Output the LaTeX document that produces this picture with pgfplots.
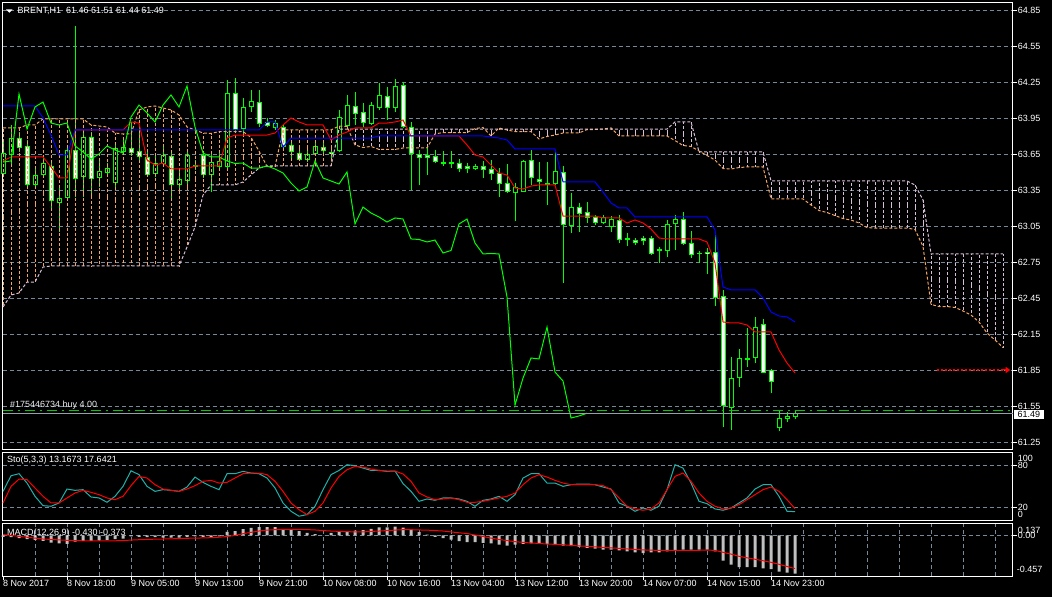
\documentclass[border=0pt]{standalone}
\usepackage{fontspec}
\setmainfont{Liberation Sans}
\usepackage{pgfplots}
\pgfplotsset{compat=1.18}
\usepackage{pgfplotstable}
\usetikzlibrary{arrows.meta}

\definecolor{gridc}{RGB}{119,136,153}
\definecolor{sandy}{RGB}{244,164,96}
\definecolor{thist}{RGB}{216,191,216}
\definecolor{seag}{RGB}{32,178,170}
\definecolor{silv}{RGB}{192,192,192}
\definecolor{limeg}{RGB}{0,255,0}
\definecolor{ordg}{RGB}{0,205,0}
\newcommand\lbl{\fontsize{9bp}{10bp}\selectfont}

% bars: x, open high low close, tenkan, kijun, stoch main/signal, macd hist/signal
\pgfplotstableread{
x o h l c t k sm ss mh ms
0 63.492 63.767 63.467 63.658 63.592 64.050 42.7 25.8 -0.015 0.010
1 63.650 63.892 63.558 63.783 63.625 64.050 65.5 50.0 -0.020 0.000
2 63.783 63.833 63.667 63.708 63.625 64.050 68.4 60.6 -0.030 -0.010
3 63.717 63.767 63.383 63.400 63.625 64.050 54.8 59.7 -0.040 -0.020
4 63.400 63.542 63.367 63.475 63.625 64.050 35.5 47.6 -0.050 -0.030
5 63.483 63.642 63.458 63.575 63.625 63.950 21.9 35.5 -0.060 -0.040
6 63.550 63.583 63.183 63.267 63.542 63.808 21.0 25.8 -0.080 -0.045
7 63.250 63.392 63.000 63.283 63.450 63.642 25.8 25.8 -0.090 -0.050
8 63.292 63.708 63.267 63.683 63.450 63.642 46.1 33.1 -0.095 -0.055
9 63.683 64.717 63.292 63.450 63.850 63.850 44.2 40.3 -0.070 -0.058
10 63.467 63.833 63.292 63.792 63.850 63.850 45.2 44.2 -0.060 -0.060
11 63.792 63.833 63.308 63.450 63.850 63.850 34.5 41.3 -0.060 -0.060
12 63.450 63.600 63.375 63.500 63.850 63.850 33.1 37.9 -0.055 -0.060
13 63.500 63.575 63.458 63.533 63.850 63.850 26.8 33.1 -0.050 -0.060
14 63.417 63.742 63.375 63.700 63.850 63.850 35.5 30.6 -0.040 -0.060
15 63.675 63.767 63.658 63.708 63.850 63.850 50.0 35.5 -0.035 -0.058
16 63.700 63.917 63.633 63.667 63.917 63.850 72.7 51.0 -0.010 -0.052
17 63.667 63.892 63.600 63.625 63.908 63.850 67.0 64.5 -0.015 -0.048
18 63.625 63.683 63.458 63.483 63.600 63.850 50.0 62.1 -0.020 -0.045
19 63.492 63.642 63.458 63.575 63.558 63.850 42.7 52.4 -0.020 -0.042
20 63.575 63.708 63.550 63.642 63.575 63.850 45.2 46.1 -0.025 -0.040
21 63.633 63.667 63.267 63.400 63.525 63.850 44.2 44.2 -0.025 -0.038
22 63.400 63.533 63.333 63.442 63.525 63.850 42.7 42.7 -0.025 -0.035
23 63.433 63.683 63.392 63.642 63.525 63.850 49.0 46.1 -0.020 -0.032
24 63.558 63.600 63.517 63.550 63.550 63.850 63.5 51.0 -0.010 -0.030
25 63.642 63.667 63.450 63.483 63.550 63.850 55.8 57.3 -0.015 -0.028
26 63.483 63.667 63.333 63.583 63.550 63.850 50.0 58.7 -0.020 -0.025
27 63.550 63.683 63.533 63.592 63.550 63.850 45.2 54.8 -0.010 -0.020
28 63.542 64.267 63.517 64.150 63.783 63.850 68.4 55.8 0.040 -0.012
29 64.158 64.283 63.825 63.858 63.808 63.850 68.4 62.1 0.050 0.000
30 63.867 64.117 63.808 64.042 63.808 63.850 71.8 68.4 0.070 0.020
31 64.042 64.183 64.000 64.083 63.808 63.850 69.4 69.4 0.085 0.035
32 64.083 64.183 63.875 63.908 63.808 63.850 68.4 69.4 0.095 0.050
33 63.917 63.950 63.875 63.892 63.808 63.917 62.1 67.0 0.095 0.060
34 63.875 63.933 63.850 63.908 63.825 63.917 47.6 57.3 0.095 0.065
35 63.875 63.900 63.683 63.717 63.892 63.708 25.8 42.7 0.070 0.068
36 63.717 63.742 63.617 63.667 63.950 63.783 13.7 25.8 0.060 0.068
37 63.658 63.700 63.592 63.608 63.917 63.783 6.5 16.1 0.050 0.068
38 63.608 63.683 63.583 63.650 63.892 63.783 8.9 8.9 0.030 0.066
39 63.658 63.767 63.633 63.717 63.892 63.783 21.0 13.7 0.015 0.062
40 63.708 63.767 63.658 63.683 63.892 63.783 45.2 25.8 0.000 0.055
41 63.667 63.725 63.617 63.658 63.767 63.783 67.0 47.6 0.030 0.050
42 63.683 64.017 63.667 63.958 63.808 63.783 73.2 64.5 0.045 0.046
43 63.892 64.142 63.867 64.058 63.833 63.783 81.5 74.2 0.050 0.043
44 64.050 64.167 63.892 63.992 63.867 63.783 80.0 79.0 0.055 0.040
45 64.000 64.075 63.875 63.917 63.867 63.783 76.6 78.0 0.060 0.040
46 63.908 64.083 63.892 64.058 63.867 63.783 73.2 75.2 0.075 0.045
47 64.042 64.242 64.017 64.142 63.908 63.800 73.2 73.2 0.090 0.050
48 64.133 64.208 63.933 64.042 63.908 63.800 71.8 72.3 0.090 0.055
49 64.042 64.275 64.000 64.217 63.917 63.800 72.3 72.3 0.100 0.060
50 64.217 64.250 63.867 63.875 63.933 63.800 54.0 68.0 0.087 0.066
51 63.875 63.917 63.350 63.658 63.800 63.800 42.7 57.3 0.068 0.065
52 63.650 63.683 63.392 63.625 63.800 63.800 28.2 40.3 0.038 0.062
53 63.642 63.725 63.475 63.625 63.800 63.800 31.6 34.5 0.008 0.060
54 63.633 63.683 63.575 63.592 63.800 63.800 29.7 30.6 -0.015 0.055
55 63.575 63.675 63.550 63.571 63.800 63.800 33.1 31.6 -0.030 0.050
56 63.579 63.675 63.533 63.575 63.800 63.800 33.1 33.1 -0.046 0.040
57 63.575 63.608 63.500 63.533 63.800 63.800 31.6 30.6 -0.065 0.030
58 63.550 63.575 63.492 63.533 63.725 63.800 28.2 26.8 -0.076 0.022
59 63.533 63.567 63.517 63.550 63.642 63.800 21.0 26.8 -0.076 0.005
60 63.550 63.592 63.450 63.525 63.625 63.800 29.7 28.2 -0.084 -0.012
61 63.525 63.600 63.433 63.492 63.558 63.792 31.6 30.6 -0.090 -0.030
62 63.492 63.533 63.292 63.408 63.492 63.783 35.5 33.1 -0.103 -0.045
63 63.408 63.567 63.325 63.342 63.475 63.767 28.2 35.5 -0.114 -0.058
64 63.333 63.408 63.092 63.375 63.367 63.692 37.9 40.3 -0.103 -0.070
65 63.342 63.600 63.333 63.592 63.358 63.692 62.1 52.4 -0.095 -0.078
66 63.592 63.683 63.392 63.450 63.383 63.692 68.4 62.1 -0.090 -0.085
67 63.442 63.583 63.350 63.425 63.392 63.692 68.4 67.0 -0.090 -0.090
68 63.404 63.583 63.225 63.400 63.392 63.692 54.8 63.5 -0.095 -0.097
69 63.408 63.683 63.392 63.500 63.392 63.692 54.8 58.7 -0.095 -0.100
70 63.500 63.550 62.575 63.067 63.133 63.417 50.0 54.8 -0.114 -0.105
71 63.058 63.325 62.992 63.208 63.133 63.417 52.4 52.4 -0.120 -0.112
72 63.208 63.242 63.000 63.158 63.133 63.417 53.4 52.4 -0.130 -0.118
73 63.167 63.250 63.075 63.125 63.133 63.417 53.4 52.4 -0.140 -0.123
74 63.117 63.142 63.058 63.083 63.133 63.417 52.4 52.4 -0.148 -0.128
75 63.083 63.142 63.067 63.117 63.117 63.333 49.0 51.0 -0.160 -0.135
76 63.050 63.133 63.000 63.108 63.117 63.242 46.1 45.2 -0.160 -0.140
77 63.100 63.142 62.908 62.942 63.117 63.200 25.8 33.1 -0.167 -0.146
78 62.942 62.992 62.883 62.938 63.075 63.200 21.0 21.0 -0.180 -0.152
79 62.933 62.950 62.892 62.917 63.100 63.125 13.7 17.1 -0.190 -0.158
80 62.950 62.967 62.892 62.933 63.075 63.125 18.5 15.2 -0.198 -0.163
81 62.950 62.967 62.808 62.825 63.025 63.125 15.2 17.1 -0.190 -0.166
82 62.850 62.875 62.742 62.846 62.950 63.125 21.0 25.8 -0.190 -0.168
83 62.850 63.100 62.792 63.067 62.942 63.125 45.2 45.2 -0.180 -0.168
84 63.075 63.142 62.850 63.108 62.942 63.125 81.5 64.5 -0.167 -0.168
85 63.100 63.167 62.892 62.908 62.942 63.125 76.6 69.4 -0.160 -0.169
86 62.908 63.008 62.783 62.817 62.942 63.125 54.8 57.3 -0.160 -0.168
87 62.825 62.842 62.742 62.821 62.942 63.125 28.2 40.3 -0.160 -0.167
88 62.833 62.867 62.650 62.817 62.917 63.125 24.8 28.2 -0.160 -0.165
89 62.833 63.000 62.383 62.458 62.742 63.017 17.1 21.0 -0.180 -0.168
90 62.467 62.517 61.375 61.558 62.250 62.542 15.2 17.1 -0.285 -0.190
91 61.542 61.958 61.350 61.783 62.242 62.517 18.5 18.5 -0.330 -0.210
92 61.792 62.025 61.708 61.950 62.242 62.517 25.8 23.4 -0.357 -0.235
93 61.946 62.200 61.875 61.942 62.225 62.517 33.1 30.6 -0.357 -0.252
94 61.958 62.292 61.908 62.208 62.167 62.517 46.1 37.9 -0.357 -0.268
95 62.225 62.275 61.825 61.833 62.167 62.450 52.4 45.2 -0.370 -0.285
96 61.842 61.858 61.658 61.758 62.167 62.333 52.4 49.0 -0.380 -0.303
97 61.375 61.517 61.342 61.450 62.017 62.300 35.5 42.7 -0.407 -0.325
98 61.450 61.500 61.417 61.467 61.908 62.292 13.7 30.6 -0.418 -0.350
99 61.460 61.510 61.440 61.490 61.825 62.250 13.2 17.6 -0.430 -0.373
}\bars

% senkou span A and B, shifted forward 26 bars
\pgfplotstableread{
x a b
0 63.867 62.375
1 63.867 62.475
2 63.867 62.492
3 63.892 62.583
4 63.892 62.583
5 63.942 62.708
6 63.942 62.717
7 63.942 62.717
8 63.942 62.717
9 63.942 62.717
10 63.942 62.717
11 63.892 62.717
12 63.883 62.717
13 63.875 62.717
14 63.825 62.717
15 63.817 62.717
16 63.817 62.717
17 64.017 62.717
18 64.042 62.717
19 64.050 62.717
20 64.033 62.717
21 64.017 62.717
22 63.975 62.717
23 63.875 62.875
24 63.850 63.042
25 63.825 63.308
26 63.821 63.392
27 63.837 63.392
28 63.837 63.392
29 63.837 63.392
30 63.837 63.417
31 63.788 63.475
32 63.675 63.533
33 63.546 63.550
34 63.546 63.550
35 63.850 63.550
36 63.850 63.550
37 63.850 63.550
38 63.850 63.550
39 63.850 63.550
40 63.850 63.550
41 63.850 63.550
42 63.883 63.858
43 63.879 63.858
44 63.725 63.858
45 63.704 63.858
46 63.713 63.858
47 63.688 63.858
48 63.688 63.858
49 63.688 63.858
50 63.700 63.858
51 63.700 63.858
52 63.700 63.858
53 63.700 63.858
54 63.817 63.858
55 63.829 63.858
56 63.829 63.858
57 63.829 63.858
58 63.829 63.858
59 63.862 63.858
60 63.871 63.858
61 63.800 63.858
62 63.867 63.858
63 63.850 63.858
64 63.837 63.858
65 63.837 63.858
66 63.837 63.858
67 63.775 63.858
68 63.796 63.858
69 63.808 63.858
70 63.825 63.858
71 63.825 63.858
72 63.825 63.858
73 63.854 63.858
74 63.854 63.858
75 63.858 63.858
76 63.867 63.858
77 63.800 63.858
78 63.800 63.858
79 63.800 63.858
80 63.800 63.858
81 63.800 63.858
82 63.800 63.858
83 63.800 63.858
84 63.762 63.917
85 63.721 63.917
86 63.713 63.917
87 63.675 63.667
88 63.637 63.667
89 63.600 63.667
90 63.529 63.667
91 63.525 63.667
92 63.537 63.667
93 63.542 63.667
94 63.542 63.667
95 63.542 63.667
96 63.275 63.425
97 63.275 63.425
98 63.275 63.425
99 63.275 63.425
100 63.275 63.425
101 63.225 63.425
102 63.179 63.425
103 63.162 63.425
104 63.137 63.425
105 63.112 63.425
106 63.100 63.425
107 63.075 63.425
108 63.037 63.425
109 63.033 63.425
110 63.033 63.425
111 63.033 63.425
112 63.033 63.425
113 63.033 63.425
114 63.021 63.392
115 62.879 63.267
116 62.396 62.817
117 62.379 62.817
118 62.379 62.817
119 62.371 62.817
120 62.342 62.817
121 62.308 62.817
122 62.250 62.817
123 62.158 62.817
124 62.100 62.817
125 62.037 62.817
}\cloud

\pgfplotsset{
  mt/.style={
    scale only axis, anchor=south west, width=1010bp,
    xmin=-0.04, xmax=126.21, clip=false,
    axis line style={white, line width=0.8bp},
    xtick=\empty,
    minor xtick={4,8,...,124}, xminorgrids=true, ymajorgrids=true,
    minor tick length=0pt, major tick length=4bp, tick align=outside,
    grid style={gridc, line width=0.7bp, dash pattern=on 4bp off 3bp},
    minor grid style={gridc, line width=0.7bp, dash pattern=on 4bp off 3bp},
    major grid style={gridc, line width=0.7bp, dash pattern=on 4bp off 3bp},
    tick style={white, line width=0.8bp},
    ytick pos=right, yticklabel pos=right,
    ticklabel style={font=\lbl, text=white, inner sep=1bp},
    yticklabel style={anchor=west},
  },
  candle/.style={draw=none, forget plot, error bars/.cd, y dir=both, y explicit,
    error mark=none, error bar style={solid, #1}},
}

\begin{document}
\begin{tikzpicture}
\fill[black] (0,0) rectangle (1052bp,597bp);
\useasboundingbox (0,0) rectangle (1052bp,597bp);

% ---------- price window ----------
\begin{axis}[mt, at={(2.7bp,147.5bp)}, height=446.8bp,
  ymin=61.1875, ymax=64.9108,
  ytick={61.25,61.55,61.85,62.15,62.45,62.75,63.05,63.35,63.65,63.95,64.25,64.55,64.85},
  yticklabels={61.25,61.55,61.85,62.15,62.45,62.75,63.05,63.35,63.65,63.95,64.25,64.55,64.85}]

% candles
\addplot[candle={draw=limeg, line width=1bp}]
  table[x=x, y expr={(\thisrow{h}+\thisrow{l})/2}, y error expr={(\thisrow{h}-\thisrow{l})/2}]{\bars};
\addplot[candle={draw=limeg, line width=5bp}]
  table[x=x, y expr={(\thisrow{o}+\thisrow{c})/2}, y error expr={abs(\thisrow{c}-\thisrow{o})/2+0.0042}]{\bars};
\addplot[candle={draw=white, line width=3bp}]
  table[x=x, y expr={(\thisrow{o}+\thisrow{c})/2}, y error expr={max((\thisrow{o}-\thisrow{c})/2-0.0042,0)}]{\bars};
\addplot[candle={draw=black, line width=3bp}]
  table[x=x, y expr={(\thisrow{o}+\thisrow{c})/2}, y error expr={max((\thisrow{c}-\thisrow{o})/2-0.0042,0)}]{\bars};

% kumo hatching
\addplot[candle={draw=sandy, line width=1bp, dash pattern=on 3bp off 2bp}]
  table[x=x, y expr={(\thisrow{a}+\thisrow{b})/2}, y error expr={max((\thisrow{a}-\thisrow{b})/2,0)}]{\cloud};
\addplot[candle={draw=thist, line width=1bp, dash pattern=on 3bp off 2bp}]
  table[x=x, y expr={(\thisrow{a}+\thisrow{b})/2}, y error expr={max((\thisrow{b}-\thisrow{a})/2,0)}]{\cloud};
\addplot[sandy, line width=1bp, dash pattern=on 3bp off 2bp] table[x=x, y=a]{\cloud};
\addplot[thist, line width=1bp, dash pattern=on 3bp off 2bp] table[x=x, y=b]{\cloud};

% ichimoku lines
\addplot[red, line width=1bp] table[x=x, y=t]{\bars};
\addplot[blue, line width=1bp] table[x=x, y=k]{\bars};
\addplot[limeg, line width=1bp, skip coords between index={0}{26}] table[x expr=\thisrow{x}-26, y=c]{\bars};

% order, bid and alert levels
\addplot[ordg, line width=1bp, dash pattern=on 10bp off 5bp on 2bp off 5bp] coordinates {(-0.04,61.512) (126.21,61.512)};
\addplot[gridc!80!white, line width=1bp] coordinates {(-0.04,61.488) (126.21,61.488)};
\addplot[red, line width=1.2bp, dash pattern=on 2bp off 2bp] coordinates {(116.8,61.85) (125.4,61.85)};
\addplot[red, line width=1bp, -{Triangle[width=6bp,length=4.5bp]}] coordinates {(125.0,61.85) (125.9,61.85)};

\node[anchor=west, inner sep=0pt, text=white!85!gridc, font=\lbl] at (axis cs:0.85,61.554) {\#175446734 buy 4.00};
\end{axis}

% ---------- stochastic window ----------
\begin{axis}[mt, at={(2.7bp,76.3bp)}, height=68.7bp,
  ymin=0, ymax=100, ytick={20,80}, yticklabels={20,80}]
\addplot[seag, line width=1bp] table[x=x, y=sm]{\bars};
\addplot[red, line width=1bp] table[x=x, y=ss]{\bars};
\node[anchor=west, inner sep=1bp, text=white, font=\lbl] at (rel axis cs:1,1) [xshift=4bp, yshift=-6.7bp] {100};
\node[anchor=west, inner sep=1bp, text=white, font=\lbl] at (rel axis cs:1,0) [xshift=4bp, yshift=6bp] {0};
\end{axis}

% ---------- MACD window ----------
\begin{axis}[mt, at={(2.7bp,21bp)}, height=52.7bp,
  ymin=-0.457, ymax=0.137, ytick={0}, yticklabels={0.00},
  xtick={0,8,...,96}, xtick pos=bottom,
  xticklabels={8 Nov 2017,8 Nov 18:00,9 Nov 05:00,9 Nov 13:00,9 Nov 21:00,10 Nov 08:00,10 Nov 16:00,13 Nov 04:00,13 Nov 12:00,13 Nov 20:00,14 Nov 07:00,14 Nov 15:00,14 Nov 23:00},
  xticklabel style={anchor=north west, inner sep=0pt, xshift=0bp}]
\addplot[ybar, bar width=3bp, fill=silv, draw=none] table[x=x, y=mh]{\bars};
\addplot[red, line width=1bp] table[x=x, y=ms]{\bars};
\node[anchor=west, inner sep=1bp, text=white, font=\lbl] at (rel axis cs:1,1) [xshift=4bp, yshift=-7.4bp] {0.137};
\node[anchor=west, inner sep=1bp, text=white, font=\lbl] at (rel axis cs:1,0) [xshift=3bp, yshift=6.7bp] {-0.457};
\end{axis}

% titles and price box
\fill[white] (6bp,587.7bp) -- (12.7bp,587.7bp) -- (9.35bp,584.3bp) -- cycle;
\node[anchor=west, inner sep=0pt, text=white, font=\lbl] at (17.5bp,586.5bp) {BRENT,H1\hspace{5bp}61.46 61.51 61.44 61.49};
\node[anchor=west, inner sep=0pt, text=white, font=\lbl] at (7bp,137bp) {Sto(5,3,3) 13.1673 17.6421};
\node[anchor=west, inner sep=0pt, text=white, font=\lbl] at (7bp,64.3bp) {MACD(12,26,9) -0.430 -0.373};
\node[anchor=west, fill=white, text=black, inner xsep=3.5bp, inner ysep=0pt, minimum height=9.5bp, font=\lbl] at (1014bp,182.5bp) {61.49};
\end{tikzpicture}
\end{document}
